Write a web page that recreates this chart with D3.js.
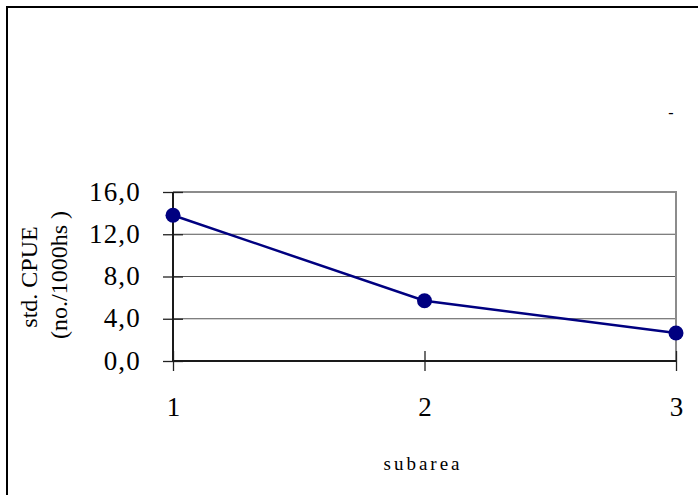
<!DOCTYPE html>
<html>
<head>
<meta charset="utf-8">
<script src="https://cdn.jsdelivr.net/npm/d3@7/dist/d3.min.js"></script>
<style>
  html, body { margin: 0; padding: 0; background: #fff; }
  svg { display: block; }
  text { font-family: "Liberation Serif", "Times New Roman", serif; fill: #000; }
</style>
</head>
<body>
<svg id="chart" width="698" height="495"></svg>
<script>
// Standardised CPUE by subarea
const subareas = [1, 2, 3];
const cpue = [13.8, 5.7, 2.65];
const yTicks = [0, 4, 8, 12, 16];
const yTickLabels = ["0,0", "4,0", "8,0", "12,0", "16,0"];
const xTickLabels = ["1", "2", "3"];

const svg = d3.select("#chart");
const W = 698, H = 495;

// outer frame (top and left edges)
svg.append("path")
  .attr("d", `M7,${H} L7,7 L${W},7`)
  .attr("fill", "none").attr("stroke", "#000").attr("stroke-width", 2);

const plotL = 173, plotR = 676, plotT = 192, plotB = 361;
const x = d3.scaleLinear().domain([1, 3]).range([plotL, plotR]);
const y = d3.scaleLinear().domain([0, 16]).range([plotB, plotT]);

// gridlines
svg.append("g").selectAll("line")
  .data(yTicks.filter(v => v > 0 && v < 16))
  .join("line")
  .attr("x1", plotL).attr("x2", plotR)
  .attr("y1", d => y(d)).attr("y2", d => y(d))
  .attr("stroke", "#555").attr("stroke-width", 1);

// plot box: top and right edges
svg.append("path")
  .attr("d", `M${plotL},${y(16)} L${plotR},${y(16)} L${plotR},${plotB}`)
  .attr("fill", "none").attr("stroke", "#8c8c8c").attr("stroke-width", 2);

// y axis, ticks crossing the axis line
const yAxis = d3.axisLeft(y).tickValues(yTicks)
  .tickFormat((d, i) => yTickLabels[i]).tickSize(10).tickPadding(22);
const gy = svg.append("g").attr("transform", `translate(${plotL},0)`).call(yAxis);
gy.select(".domain").remove();
gy.selectAll(".tick line").attr("stroke", "#222").attr("stroke-width", 1.3);
gy.selectAll(".tick text")
  .attr("font-size", 27).attr("font-family", "Liberation Serif")
  .attr("letter-spacing", 1.2).attr("dy", "0.3em");
const gy2 = svg.append("g").attr("transform", `translate(${plotL},0)`)
  .call(d3.axisRight(y).tickValues(yTicks).tickFormat("").tickSize(10));
gy2.select(".domain").remove();
gy2.selectAll(".tick line").attr("stroke", "#222").attr("stroke-width", 1.3);

// x axis, ticks crossing the axis line
const xAxis = d3.axisBottom(x).tickValues(subareas)
  .tickFormat((d, i) => xTickLabels[i]).tickSize(10).tickPadding(25.5);
const gx = svg.append("g").attr("transform", `translate(0,${plotB})`).call(xAxis);
gx.select(".domain").remove();
gx.selectAll(".tick line").attr("stroke", "#222").attr("stroke-width", 1.3);
gx.selectAll(".tick text").attr("font-size", 27).attr("font-family", "Liberation Serif");
const gx2 = svg.append("g").attr("transform", `translate(0,${plotB})`)
  .call(d3.axisTop(x).tickValues(subareas).tickFormat("").tickSize(10));
gx2.select(".domain").remove();
gx2.selectAll(".tick line").attr("stroke", "#222").attr("stroke-width", 1.3);

// axis lines
svg.append("line").attr("x1", plotL).attr("x2", plotL).attr("y1", plotT).attr("y2", plotB)
  .attr("stroke", "#1a1a1a").attr("stroke-width", 2);
svg.append("line").attr("x1", plotL).attr("x2", plotR).attr("y1", plotB).attr("y2", plotB)
  .attr("stroke", "#1a1a1a").attr("stroke-width", 2);

// series
const pts = subareas.map((s, i) => [s, cpue[i]]);
svg.append("path")
  .datum(pts)
  .attr("d", d3.line().x(d => x(d[0])).y(d => y(d[1])))
  .attr("fill", "none").attr("stroke", "#000080").attr("stroke-width", 2.5);
svg.append("g").selectAll("circle")
  .data(pts).join("circle")
  .attr("cx", d => x(d[0])).attr("cy", d => y(d[1])).attr("r", 7.5)
  .attr("fill", "#000080");

// axis titles
svg.append("text")
  .attr("transform", "translate(37,277) rotate(-90)")
  .attr("text-anchor", "middle").attr("font-size", 24)
  .text("std. CPUE");
svg.append("text")
  .attr("transform", "translate(67,275) rotate(-90)")
  .attr("text-anchor", "middle").attr("font-size", 24)
  .text("(no./1000hs )");
svg.append("text")
  .attr("x", 423).attr("y", 470)
  .attr("text-anchor", "middle").attr("font-size", 19)
  .attr("letter-spacing", 3)
  .text("subarea");

// stray dash mark
svg.append("text")
  .attr("x", 671).attr("y", 118)
  .attr("text-anchor", "middle").attr("font-size", 16)
  .text("-");
</script>
</body>
</html>
